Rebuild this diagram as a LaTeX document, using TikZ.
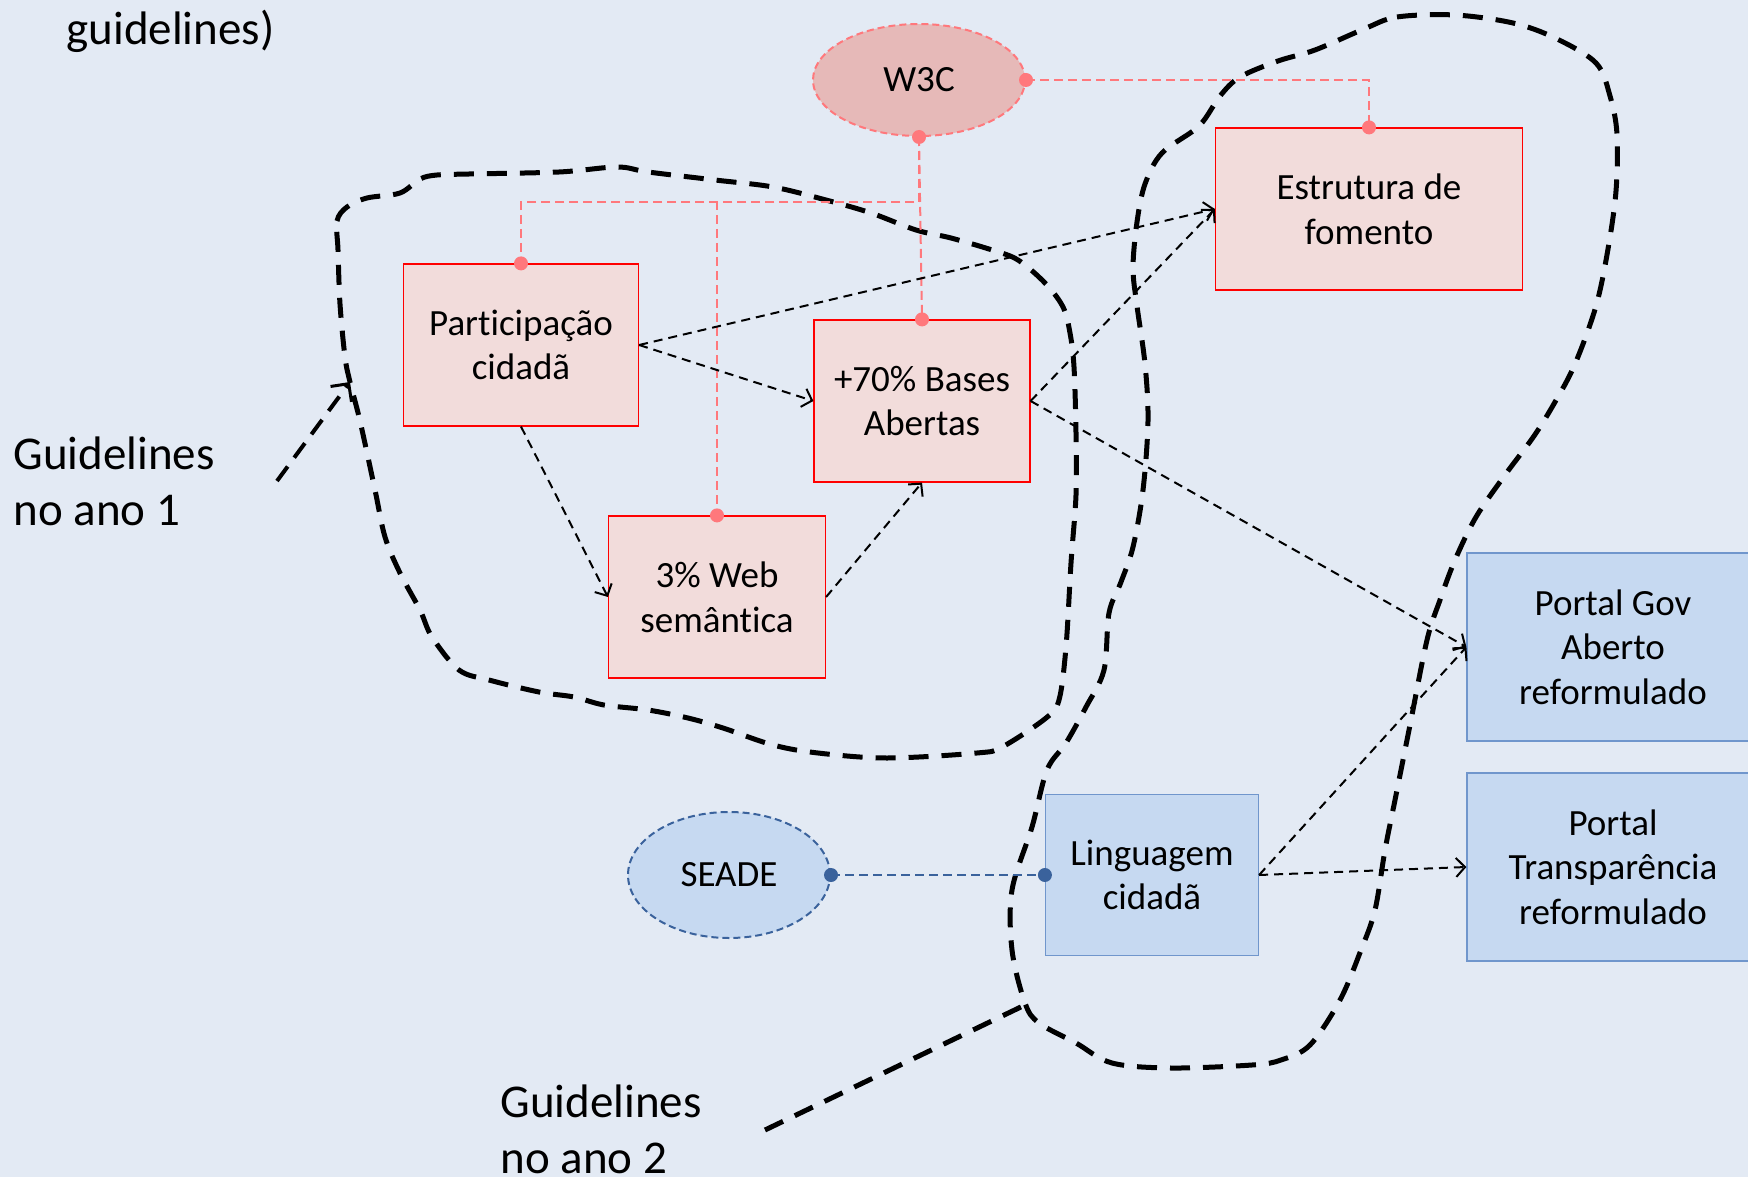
\documentclass[tikz,border=0pt]{standalone}
\usepackage{fontspec}
\setmainfont{Carlito}[Ligatures=NoCommon]
\usetikzlibrary{arrows.meta,shapes.geometric}
\definecolor{bgblue}{RGB}{227,234,244}
\definecolor{rfill}{RGB}{242,220,219}
\definecolor{w3cfill}{RGB}{230,185,184}
\definecolor{rlinkc}{RGB}{255,120,124}
\definecolor{bfill}{RGB}{198,217,241}
\definecolor{bborder}{RGB}{112,150,204}
\definecolor{blinkc}{RGB}{58,98,156}
\newcommand{\diagfont}{\fontsize{37}{44.6}\selectfont}
\newcommand{\guidefont}{\fontsize{47}{56}\selectfont}
\tikzset{
	rbox/.style 2 args={draw=red,fill=rfill,line width=1.2pt,minimum width=#1,minimum height=#2,inner sep=0pt,align=center,font=\diagfont},
	bbox/.style 2 args={draw=bborder,fill=bfill,line width=1.2pt,minimum width=#1,minimum height=#2,inner sep=0pt,align=center,font=\diagfont},
	rlink/.style={draw=rlinkc,line width=2pt,dash pattern=on 9pt off 5pt},
	blink/.style={draw=blinkc,line width=2.6pt,dash pattern=on 9pt off 5pt},
	arr/.style={line width=2pt,dash pattern=on 9pt off 6pt,-{Straight Barb[length=9pt,width=19pt,line width=2pt]}},
	blob/.style={line width=5pt,dash pattern=on 20pt off 13pt},
	gtext/.style={anchor=west,align=left,font=\guidefont}
}

\begin{document}
\begin{tikzpicture}[x=1pt,y=-1pt]
	\fill[bgblue] (0,0) rectangle (1748,1177);
	\useasboundingbox (0,0) rectangle (1748,1177);

	\node [anchor=base west,font=\guidefont] (g0) at (63,45) {guidelines)};
	\node [gtext] (g1) at (10,481) {Guidelines\\no ano 1};
	\node [gtext] (g2) at (497,1129) {Guidelines\\no ano 2};

	% areas
	\draw[blob] plot[smooth cycle,tension=0.55] coordinates {(338,250) (337,221) (347,207) (367,198) (400,193) (420,179) (437,175) (469,174) (559,172) (617,167) (648,172) (715,180) (773,187) (826,200) (871,213) (916,230) (951,238) (992,250) (1018,260) (1045,283) (1063,307) (1070,333) (1074,367) (1076,433) (1076,495) (1071,563) (1066,647) (1059,700) (1046,718) (1002,747) (977,753) (887,758) (818,753) (773,745) (723,728) (688,718) (648,710) (604,705) (574,697) (539,692) (489,680) (459,670) (432,637) (420,610) (400,573) (385,537) (375,490) (360,421) (350,382) (345,357) (340,304)};
	\draw[blob] plot[smooth cycle,tension=0.55] coordinates {(1364,29) (1397,17) (1455,15) (1513,23) (1555,38) (1596,63) (1610,96) (1617,134) (1616,191) (1608,249) (1596,306) (1575,364) (1555,402) (1534,436) (1505,475) (1476,517) (1455,560) (1440,600) (1427,640) (1410,725) (1395,800) (1385,850) (1375,910) (1361,950) (1340,1000) (1310,1045) (1281,1060) (1252,1065) (1171,1068) (1112,1063) (1076,1043) (1039,1023) (1025,1003) (1012,950) (1012,890) (1032,827) (1047,770) (1066,743) (1086,707) (1104,670) (1109,613) (1121,582) (1133,547) (1143,490) (1148,421) (1145,364) (1137,306) (1133,268) (1137,222) (1145,184) (1162,153) (1199,126) (1220,96) (1240,77) (1278,61) (1315,50)};

	\node [ellipse,draw=rlinkc,fill=w3cfill,line width=2pt,dash pattern=on 7pt off 4pt,minimum width=212pt,minimum height=112pt,font=\diagfont] (w3c) at (919,80) {W3C};
	\node [rbox={307pt}{162pt}] (estr) at (1369,209) {Estrutura de\\fomento};
	\node [rbox={235pt}{162pt}] (part) at (521,345) {Participação\\cidadã};
	\node [rbox={216pt}{162pt}] (bases) at (922,401) {+70\% Bases\\Abertas};
	\node [rbox={217pt}{162pt}] (web) at (717,597) {3\% Web\\semântica};

	\node [ellipse,draw=blinkc,fill=bfill,line width=2pt,dash pattern=on 7pt off 4pt,minimum width=202pt,minimum height=126pt,font=\diagfont] (seade) at (729,875) {SEADE};
	\node [bbox={213pt}{161pt}] (ling) at (1152,875) {Linguagem\\cidadã};
	\node [bbox={292pt}{188pt}] (gov) at (1613,647) {Portal Gov\\Aberto\\reformulado};
	\node [bbox={292pt}{188pt}] (transp) at (1613,867) {Portal\\Transparência\\reformulado};

	% W3C links
	\draw[rlink] (w3c.east) -| (estr.north);
	\draw[rlink] (w3c.south) -- ++(0,65) -| (part.north);
	\draw[rlink] (w3c.south) -- ++(0,65) -| (web.north);
	\draw[rlink] (w3c.south) -- (bases.north);
	\foreach \p in {w3c.east,w3c.south,estr.north,part.north,web.north,bases.north}
		\fill[rlinkc] (\p) circle (7pt);

	\draw[blink] (seade.east) -- (ling.west);
	\fill[blinkc] (seade.east) circle (7pt);
	\fill[blinkc] (ling.west) circle (7pt);

	\draw[arr] (part.east) -- (bases.west);
	\draw[arr] (part.east) -- (estr.west);
	\draw[arr] (part.south) -- (web.west);
	\draw[arr] (web.east) -- (bases.south);
	\draw[arr] (bases.east) -- (estr.west);
	\draw[arr] (bases.east) -- (gov.west);
	\draw[arr] (ling.east) -- (gov.west);
	\draw[arr] (ling.east) -- (transp.west);

	\coordinate (a1s) at (277,481);
	\coordinate (a1e) at (350,382);
	\coordinate (a2s) at (765,1130);
	\coordinate (a2e) at (1025,1005);
	\draw[line width=4pt,dash pattern=on 18pt off 11pt,-{Straight Barb[length=13pt,width=26pt,line width=3pt]}] (a1s) -- (a1e);
	\draw[line width=5pt,dash pattern=on 20pt off 13pt] (a2s) -- (a2e);
\end{tikzpicture}
\end{document}
